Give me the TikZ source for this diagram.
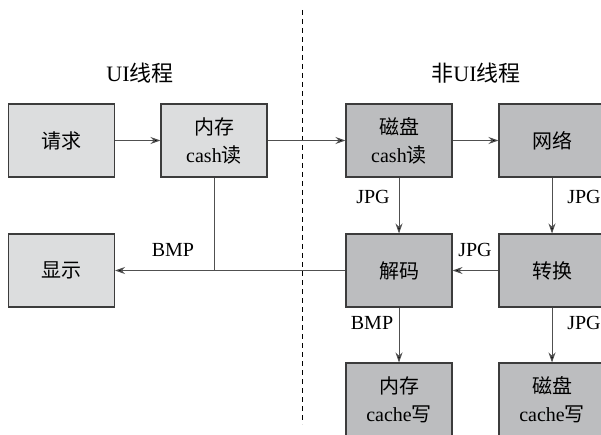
\documentclass[tikz,border=0pt]{standalone}
\usepackage{fontspec}
\setmainfont{Liberation Serif}
\newfontfamily\cjk{Noto Sans CJK SC}
\usetikzlibrary{arrows.meta}
\newcommand{\zh}[1]{{\cjk #1}}
\definecolor{lightbox}{HTML}{DCDDDE}
\definecolor{darkbox}{HTML}{BCBDBF}
\definecolor{edge}{HTML}{3C3C3C}
\definecolor{wire}{HTML}{505050}
\begin{document}
\begin{tikzpicture}[x=1pt,y=-1pt,
  box/.style={draw=edge,line width=1.1pt,minimum width=106pt,minimum height=73pt,
    inner sep=0pt,align=center,font=\fontsize{20}{28}\selectfont},
  uibox/.style={box,fill=lightbox},
  bgbox/.style={box,fill=darkbox},
  conn/.style={draw=wire,line width=1pt},
  arr/.style={conn,-{Stealth[length=10pt,width=7pt,fill=black]}},
  lbl/.style={font=\fontsize{20}{22}\selectfont,inner sep=0pt},
  ttl/.style={font=\fontsize{22}{24}\selectfont,inner sep=0pt}]
\path[use as bounding box] (0,0) rectangle (601,435);
\clip (0,0) rectangle (601,435);
\fill[white] (0,0) rectangle (601,435);

\draw[black,line width=0.8pt,dash pattern=on 5pt off 4pt] (302,10) -- (302,424);

\node[ttl] (t1) at (140,73) {UI\zh{线程}};
\node[ttl] (t2) at (476,73) {\zh{非}UI\zh{线程}};

\node[uibox] (req) at (61.5,140.5) {\zh{请求}};
\node[uibox] (mem) at (214,140.5) {\zh{内存}\\cash\zh{读}};
\node[uibox] (show) at (61.5,270.5) {\zh{显示}};
\node[bgbox] (disk) at (399,140.5) {\zh{磁盘}\\cash\zh{读}};
\node[bgbox] (net) at (552,140.5) {\zh{网络}};
\node[bgbox] (dec) at (399,270.5) {\zh{解码}};
\node[bgbox] (conv) at (552,270.5) {\zh{转换}};
\node[bgbox] (memw) at (399,399.5) {\zh{内存}\\cache\zh{写}};
\node[bgbox] (diskw) at (552,399.5) {\zh{磁盘}\\cache\zh{写}};

\coordinate (join) at (mem.south |- dec.west);

\draw[arr] (req) -- (mem);
\draw[arr] (mem) -- (disk);
\draw[arr] (disk) -- (net);
\draw[arr] (disk) -- (dec);
\draw[arr] (net) -- (conv);
\draw[arr] (conv) -- (dec);
\draw[arr] (dec) -- (show);
\draw[conn] (mem.south) -- (join);
\draw[arr] (dec) -- (memw);
\draw[arr] (conv) -- (diskw);

\node[lbl] (l1) at (173,250) {BMP};
\node[lbl] (l2) at (373,197) {JPG};
\node[lbl] (l3) at (584,197) {JPG};
\node[lbl] (l4) at (475,250) {JPG};
\node[lbl] (l5) at (372,323) {BMP};
\node[lbl] (l6) at (584,323) {JPG};
\end{tikzpicture}
\end{document}
